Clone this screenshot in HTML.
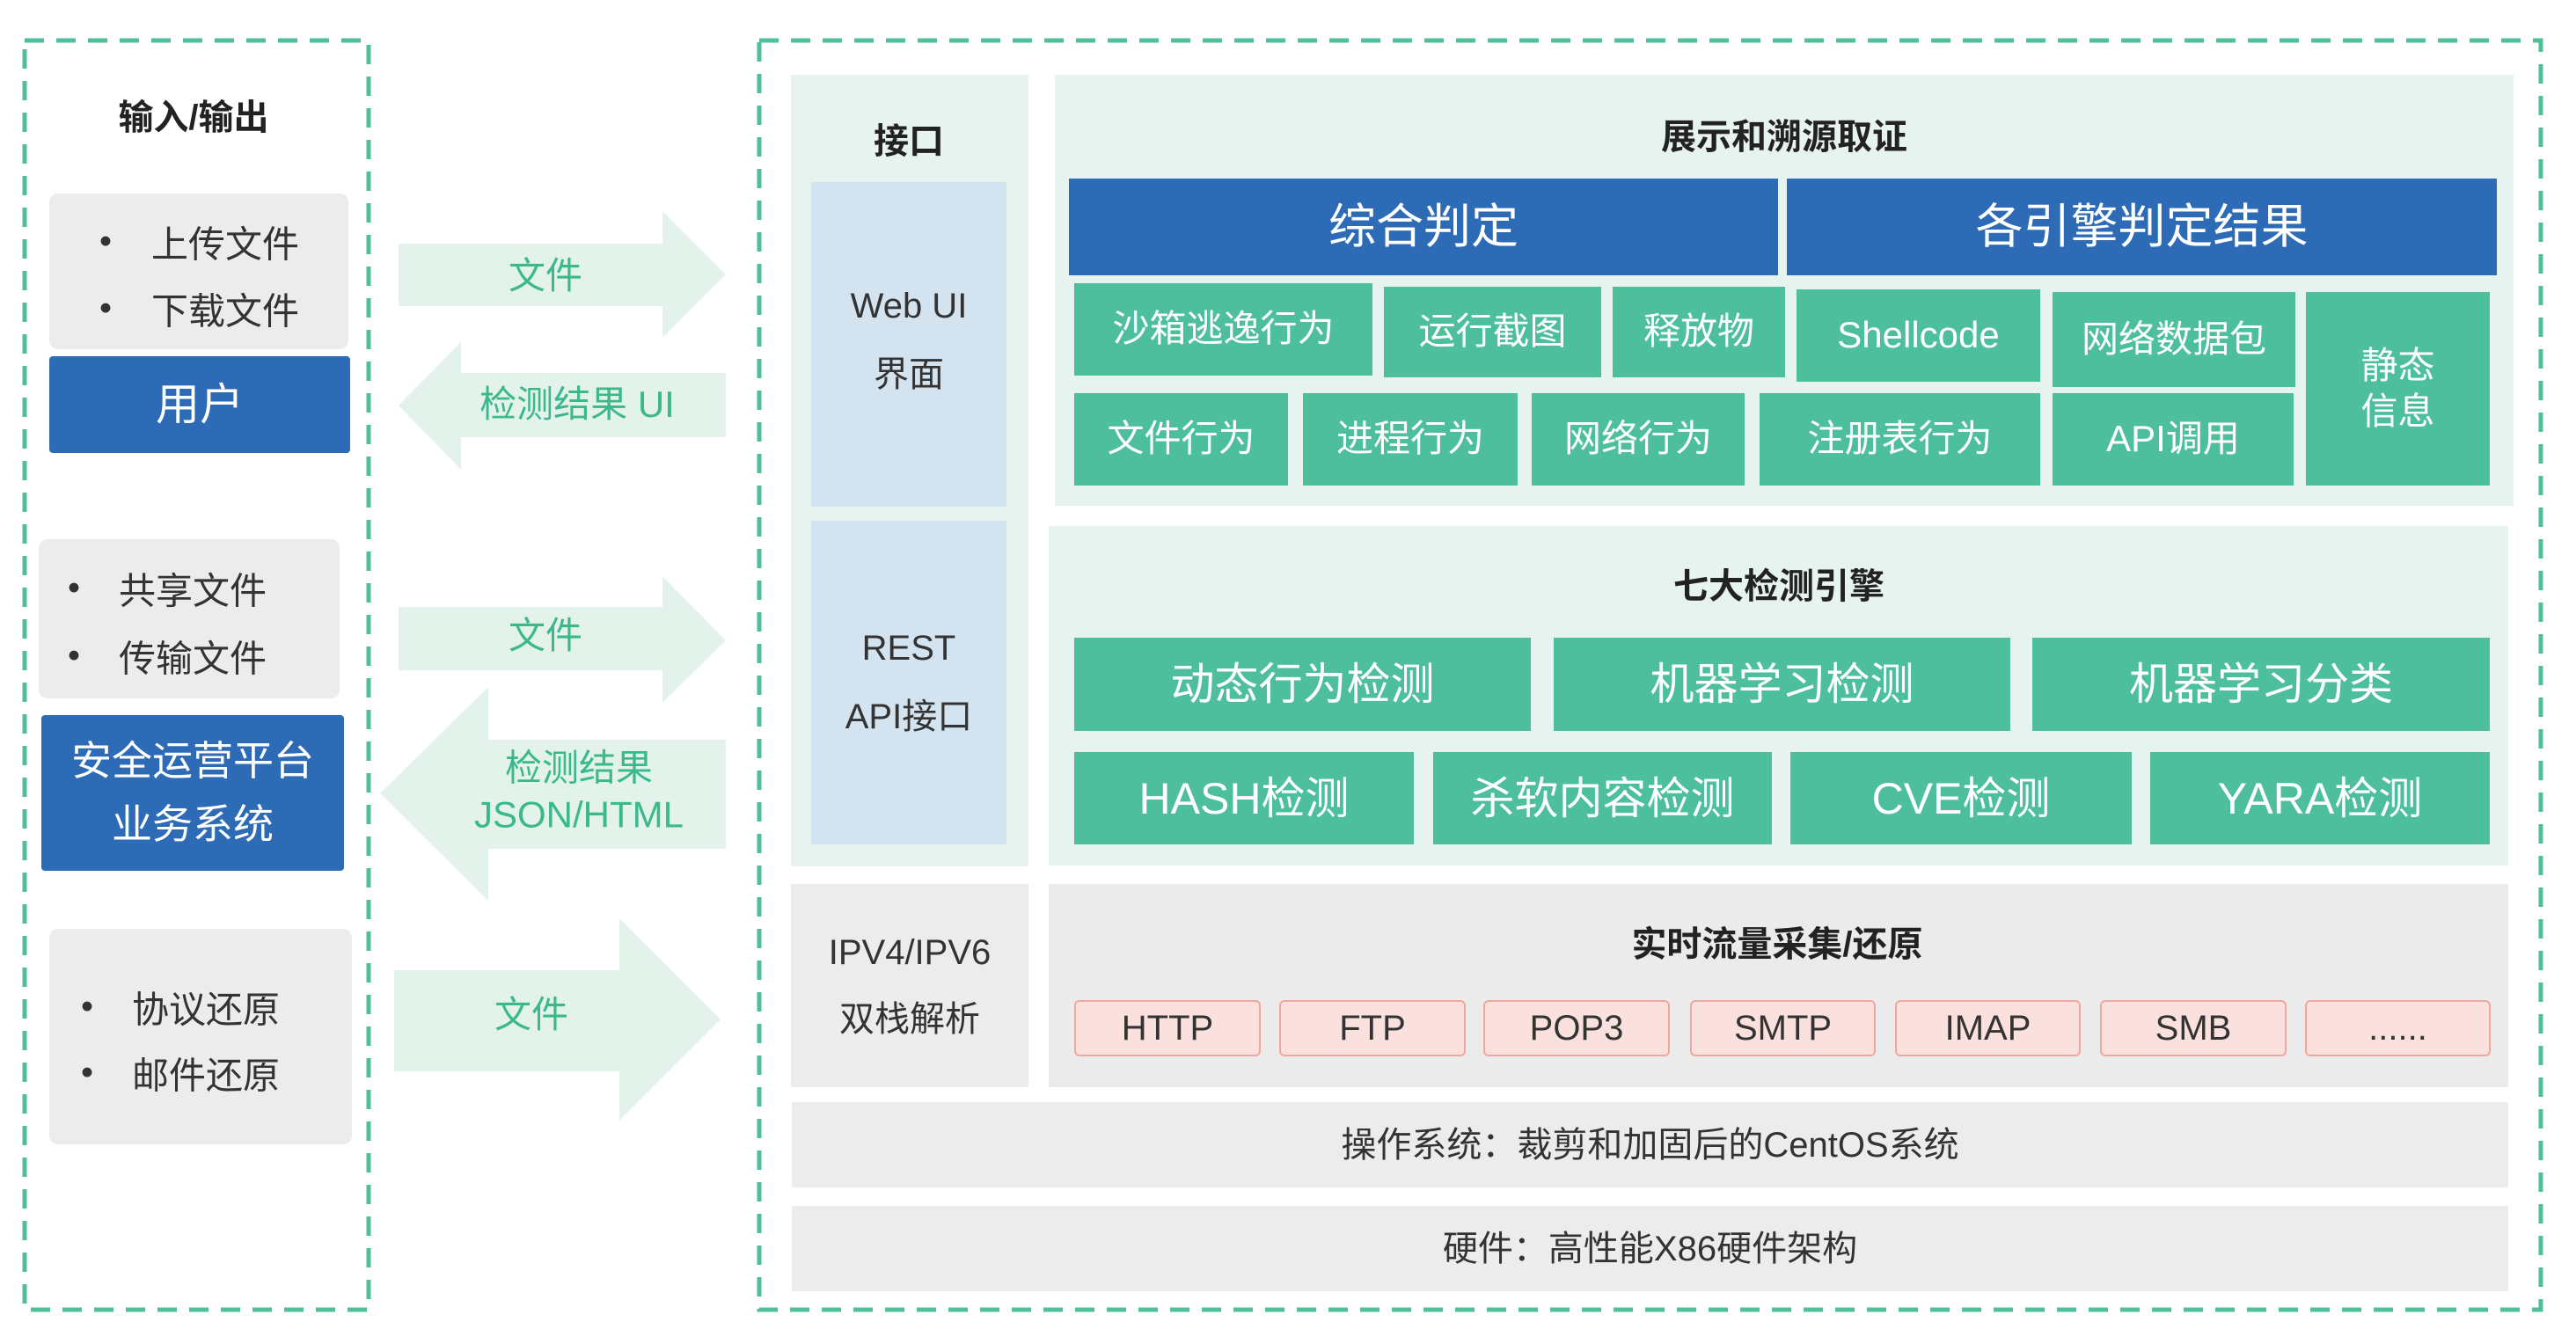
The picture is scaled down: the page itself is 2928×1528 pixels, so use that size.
<!DOCTYPE html>
<html><head><meta charset="utf-8">
<style>
*{margin:0;padding:0;box-sizing:border-box}
body{width:2928px;height:1528px;background:#fff;position:relative;overflow:hidden;font-family:"Liberation Sans","Noto Sans CJK SC",sans-serif;color:#333}
.b{position:absolute;display:flex;align-items:center;justify-content:center;text-align:center;line-height:1.2}
.g{background:#4dbf9c;color:#fff;font-size:42px}
.blue{background:#2d6bb7;color:#fff}
.t{position:absolute;transform:translate(-50%,-50%);white-space:nowrap}
.pill{background:#fbe1dd;border:2px solid #f0a79d;border-radius:6px;font-size:40px;color:#333;top:1137px;height:64px}
.gb{position:absolute;background:#ececec;border-radius:10px}
.at{position:absolute;transform:translate(-50%,-50%);white-space:nowrap;color:#3bb98c;font-size:42px;text-align:center;line-height:1.25}
</style></head><body>
<svg width="2928" height="1528" style="position:absolute;left:0;top:0">
<rect x="28" y="46" width="391" height="1443" fill="none" stroke="#4dbf9c" stroke-width="5" stroke-dasharray="22 14"/>
<rect x="863" y="46" width="2025" height="1443" fill="none" stroke="#4dbf9c" stroke-width="5" stroke-dasharray="22 14"/>
<g fill="#e3f3ec">
<polygon points="453,277 753,277 753,240 825,312 753,384 753,348 453,348"/>
<polygon points="453,461 524,389 524,424 825,424 825,497 524,497 524,534"/>
<polygon points="453,690 753,690 753,655 825,728 753,799 753,762 453,762"/>
<polygon points="432,902 555,781 555,841 825,841 825,965 555,965 555,1024"/>
<polygon points="448,1103 704,1103 704,1044 819,1159 704,1274 704,1218 448,1218"/>
</g>
</svg>

<div class="t" style="left:220px;top:130px;font-size:40px;font-weight:bold;color:#222">输入/输出</div>
<div class="gb" style="left:56px;top:220px;width:340px;height:177px"></div>
<div class="t" style="left:120px;top:275px;font-size:40px">•</div>
<div class="t" style="left:172px;top:275px;font-size:42px;transform:translate(0,-50%)">上传文件</div>
<div class="t" style="left:120px;top:351px;font-size:40px">•</div>
<div class="t" style="left:172px;top:351px;font-size:42px;transform:translate(0,-50%)">下载文件</div>
<div class="b blue" style="left:56px;top:405px;width:342px;height:110px;font-size:50px;border-radius:4px">用户</div>

<div class="gb" style="left:44px;top:613px;width:342px;height:181px"></div>
<div class="t" style="left:84px;top:669px;font-size:40px">•</div>
<div class="t" style="left:135px;top:669px;font-size:42px;transform:translate(0,-50%)">共享文件</div>
<div class="t" style="left:84px;top:746px;font-size:40px">•</div>
<div class="t" style="left:135px;top:746px;font-size:42px;transform:translate(0,-50%)">传输文件</div>
<div class="b blue" style="left:47px;top:813px;width:344px;height:177px;font-size:46px;line-height:1.55;border-radius:4px">安全运营平台<br>业务系统</div>

<div class="gb" style="left:56px;top:1056px;width:344px;height:245px"></div>
<div class="t" style="left:99px;top:1145px;font-size:40px">•</div>
<div class="t" style="left:150px;top:1145px;font-size:42px;transform:translate(0,-50%)">协议还原</div>
<div class="t" style="left:99px;top:1220px;font-size:40px">•</div>
<div class="t" style="left:150px;top:1220px;font-size:42px;transform:translate(0,-50%)">邮件还原</div>

<div class="at" style="left:620px;top:314px">文件</div>
<div class="at" style="left:656px;top:460px">检测结果 UI</div>
<div class="at" style="left:620px;top:723px">文件</div>
<div class="at" style="left:658px;top:900px">检测结果<br>JSON/HTML</div>
<div class="at" style="left:604px;top:1154px">文件</div>

<div style="position:absolute;left:899px;top:85px;width:270px;height:900px;background:#e7f3ef"></div>
<div class="t" style="left:1033px;top:157px;font-size:40px;font-weight:bold;color:#222">接口</div>
<div class="b" style="left:922px;top:207px;width:222px;height:369px;background:#d3e4f0;font-size:40px;line-height:1.95;color:#333;padding-bottom:10px">Web UI<br>界面</div>
<div class="b" style="left:922px;top:592px;width:222px;height:368px;background:#d3e4f0;font-size:40px;line-height:1.95;color:#333">REST<br>API接口</div>
<div class="b" style="left:899px;top:1005px;width:270px;height:231px;background:#ececec;font-size:40px;line-height:1.9;color:#333">IPV4/IPV6<br>双栈解析</div>

<div style="position:absolute;left:1199px;top:85px;width:1658px;height:490px;background:#e7f3ef"></div>
<div class="t" style="left:2028px;top:152px;font-size:40px;font-weight:bold;color:#222">展示和溯源取证</div>
<div class="b blue" style="left:1215px;top:203px;width:806px;height:110px;font-size:54px">综合判定</div>
<div class="b blue" style="left:2031px;top:203px;width:807px;height:110px;font-size:54px">各引擎判定结果</div>
<div class="b g" style="left:1221px;top:322px;width:339px;height:105px">沙箱逃逸行为</div>
<div class="b g" style="left:1573px;top:326px;width:247px;height:103px">运行截图</div>
<div class="b g" style="left:1833px;top:326px;width:196px;height:103px">释放物</div>
<div class="b g" style="left:2042px;top:329px;width:277px;height:105px">Shellcode</div>
<div class="b g" style="left:2333px;top:332px;width:276px;height:108px">网络数据包</div>
<div class="b g" style="left:2621px;top:332px;width:209px;height:220px;line-height:1.25">静态<br>信息</div>
<div class="b g" style="left:1221px;top:447px;width:243px;height:105px">文件行为</div>
<div class="b g" style="left:1481px;top:447px;width:244px;height:105px">进程行为</div>
<div class="b g" style="left:1741px;top:447px;width:242px;height:105px">网络行为</div>
<div class="b g" style="left:2000px;top:447px;width:319px;height:105px">注册表行为</div>
<div class="b g" style="left:2333px;top:447px;width:274px;height:105px">API调用</div>

<div style="position:absolute;left:1192px;top:598px;width:1659px;height:386px;background:#e7f3ef"></div>
<div class="t" style="left:2022px;top:663px;font-size:40px;font-weight:bold;color:#222">七大检测引擎</div>
<div class="b g" style="left:1221px;top:725px;width:519px;height:106px;font-size:50px">动态行为检测</div>
<div class="b g" style="left:1766px;top:725px;width:519px;height:106px;font-size:50px">机器学习检测</div>
<div class="b g" style="left:2310px;top:725px;width:520px;height:106px;font-size:50px">机器学习分类</div>
<div class="b g" style="left:1221px;top:855px;width:386px;height:105px;font-size:50px">HASH检测</div>
<div class="b g" style="left:1629px;top:855px;width:385px;height:105px;font-size:50px">杀软内容检测</div>
<div class="b g" style="left:2035px;top:855px;width:388px;height:105px;font-size:50px">CVE检测</div>
<div class="b g" style="left:2444px;top:855px;width:386px;height:105px;font-size:50px">YARA检测</div>

<div style="position:absolute;left:1192px;top:1005px;width:1659px;height:231px;background:#ebebeb"></div>
<div class="t" style="left:2020px;top:1070px;font-size:40px;font-weight:bold;color:#222">实时流量采集/还原</div>
<div class="b pill" style="left:1221px;width:212px">HTTP</div>
<div class="b pill" style="left:1454px;width:212px">FTP</div>
<div class="b pill" style="left:1686px;width:212px">POP3</div>
<div class="b pill" style="left:1921px;width:211px">SMTP</div>
<div class="b pill" style="left:2154px;width:211px">IMAP</div>
<div class="b pill" style="left:2387px;width:212px">SMB</div>
<div class="b pill" style="left:2620px;width:211px">......</div>

<div class="b" style="left:900px;top:1253px;width:1951px;height:97px;background:#ececec;font-size:40px;color:#333">操作系统：裁剪和加固后的CentOS系统</div>
<div class="b" style="left:900px;top:1371px;width:1951px;height:97px;background:#ececec;font-size:40px;color:#333">硬件：高性能X86硬件架构</div>
</body></html>
